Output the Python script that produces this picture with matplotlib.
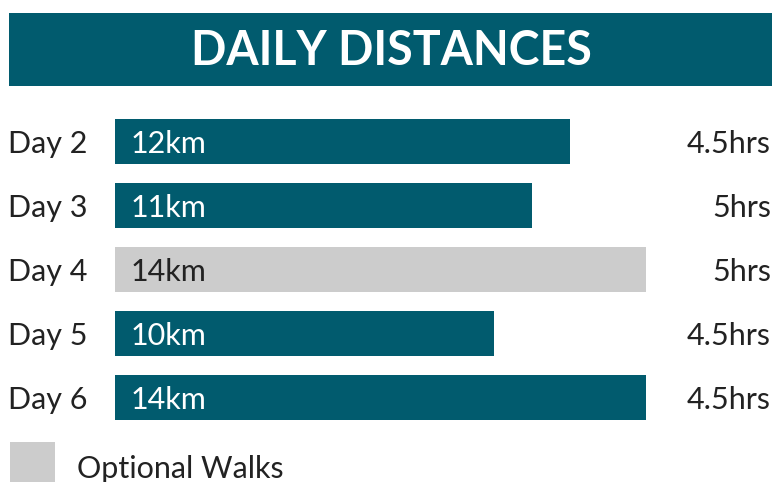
import matplotlib
matplotlib.use("Agg")
import matplotlib.pyplot as plt
from matplotlib.patches import Rectangle

days = ["Day 2", "Day 3", "Day 4", "Day 5", "Day 6"]
distances_km = [12, 11, 14, 10, 14]
durations = ["4.5hrs", "5hrs", "5hrs", "4.5hrs", "4.5hrs"]
optional = [False, False, True, False, False]

TEAL = "#015B6E"
GREY = "#CCCCCC"
DARK = "#222222"

plt.rcParams["font.family"] = ["Lato", "DejaVu Sans"]

W, H = 774, 482
fig = plt.figure(figsize=(W / 100, H / 100), dpi=100)


def fx(px):
    return px / W


def fy(py):
    return 1 - py / H


# title banner
fig.add_artist(Rectangle((fx(9), fy(86)), fx(772) - fx(9), fy(13) - fy(86),
                         transform=fig.transFigure, facecolor=TEAL, edgecolor="none"))
fig.text(fx(391), fy(65), "DAILY DISTANCES", color="white", fontsize=33.5,
         fontweight="bold", ha="center", va="baseline")

# bars: axes spans bar area, 0..14 km across 115..646 px
bar_h = 45 / 64
pad = bar_h / 2
top, bottom = 119, 420
ax = fig.add_axes([fx(115), fy(bottom), fx(646) - fx(115), fy(top) - fy(bottom)])
ax.set_xlim(0, 14)
ax.set_ylim(len(days) - 1 + pad, -pad)
ax.axis("off")

ypos = list(range(len(days)))
colors = [GREY if o else TEAL for o in optional]
ax.barh(ypos, distances_km, height=bar_h, color=colors, left=0)

fs = 22
for y, day, km, hrs, opt in zip(ypos, days, distances_km, durations, optional):
    base = y + 0.18
    ax.text(0.4, base, f"{km}km", color=DARK if opt else "white",
            fontsize=fs, va="baseline", ha="left")
    ax.annotate(day, xy=(fx(8), base), xycoords=("figure fraction", "data"),
                fontsize=fs, color=DARK, va="baseline", ha="left")
    ax.annotate(hrs, xy=(fx(771), base), xycoords=("figure fraction", "data"),
                fontsize=fs, color=DARK, va="baseline", ha="right")

# legend
fig.add_artist(Rectangle((fx(10), fy(487)), fx(55) - fx(10), fy(442) - fy(487),
                         transform=fig.transFigure, facecolor=GREY, edgecolor="none",
                         clip_on=False))
fig.text(fx(77), fy(478), "Optional Walks", color=DARK, fontsize=fs,
         ha="left", va="baseline")

fig.savefig("out.png", dpi=100)
